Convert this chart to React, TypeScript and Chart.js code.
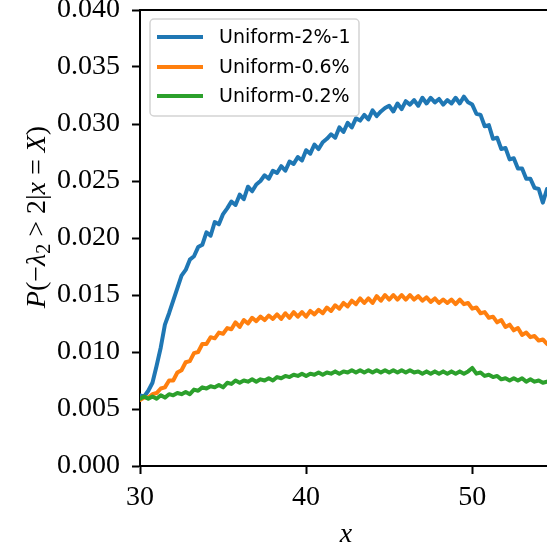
import React, { useEffect, useRef } from "react";
import { Chart, registerables } from "chart.js";

Chart.register(...registerables);

const X_VALUES = [
  30, 30.25, 30.5, 30.75, 31, 31.25, 31.5, 31.75, 32, 32.25,
  32.5, 32.75, 33, 33.25, 33.5, 33.75, 34, 34.25, 34.5, 34.75,
  35, 35.25, 35.5, 35.75, 36, 36.25, 36.5, 36.75, 37, 37.25,
  37.5, 37.75, 38, 38.25, 38.5, 38.75, 39, 39.25, 39.5, 39.75,
  40, 40.25, 40.5, 40.75, 41, 41.25, 41.5, 41.75, 42, 42.25,
  42.5, 42.75, 43, 43.25, 43.5, 43.75, 44, 44.25, 44.5, 44.75,
  45, 45.25, 45.5, 45.75, 46, 46.25, 46.5, 46.75, 47, 47.25,
  47.5, 47.75, 48, 48.25, 48.5, 48.75, 49, 49.25, 49.5, 49.75,
  50, 50.25, 50.5, 50.75, 51, 51.25, 51.5, 51.75, 52, 52.25,
  52.5, 52.75, 53, 53.25, 53.5, 53.75, 54, 54.25, 54.5,
];

const UNIFORM_2_1 = [
  0.0062, 0.0061, 0.0066, 0.0073, 0.0088, 0.0104, 0.0124, 0.0134, 0.0145, 0.0156,
  0.0167, 0.0172, 0.0181, 0.0184, 0.0192, 0.0194, 0.0205, 0.0202, 0.0214, 0.0212,
  0.0221, 0.0226, 0.0232, 0.0229, 0.0238, 0.0234, 0.0245, 0.0241, 0.0247, 0.025,
  0.0255, 0.0252, 0.0259, 0.0257, 0.0263, 0.0259, 0.0267, 0.0265, 0.0271, 0.0268,
  0.0277, 0.0274, 0.0282, 0.0278, 0.0284, 0.0287, 0.0291, 0.0288, 0.0297, 0.0293,
  0.0301, 0.0297, 0.0305, 0.0303, 0.0308, 0.0304, 0.0312, 0.0307, 0.0311, 0.0314,
  0.0316, 0.0311, 0.0318, 0.0313, 0.032, 0.0317, 0.0321, 0.0316, 0.0323, 0.0318,
  0.0323, 0.0319, 0.0322, 0.0317, 0.0321, 0.0318, 0.0323, 0.0318, 0.0324, 0.0319,
  0.0317, 0.0309, 0.0308, 0.0298, 0.0299, 0.0287, 0.0288, 0.0278, 0.0279, 0.0269,
  0.027, 0.0261, 0.0261, 0.0252, 0.0252, 0.0244, 0.0243, 0.0231, 0.0243,
];

const UNIFORM_0_6 = [
  0.0058, 0.006, 0.006, 0.0063, 0.0064, 0.0068, 0.0069, 0.0075, 0.0075, 0.0082,
  0.0084, 0.0091, 0.0092, 0.0099, 0.01, 0.0107, 0.0107, 0.0113, 0.0112, 0.0117,
  0.0116, 0.0121, 0.012, 0.0126, 0.0122, 0.0128, 0.0125, 0.013, 0.0127, 0.0131,
  0.0128, 0.0132, 0.0129, 0.0133, 0.0129, 0.0134, 0.013, 0.0135, 0.0131, 0.0135,
  0.0131, 0.0136, 0.0133, 0.0137, 0.0134, 0.0139, 0.0136, 0.0141, 0.0138, 0.0143,
  0.014, 0.0145, 0.0142, 0.0147, 0.0143, 0.0147, 0.0143, 0.0149, 0.0145, 0.015,
  0.0146, 0.015, 0.0146, 0.015, 0.0146, 0.015, 0.0146, 0.0149, 0.0145, 0.0148,
  0.0144, 0.0147, 0.0143, 0.0146, 0.0143, 0.0146, 0.0142, 0.0146, 0.0142, 0.0143,
  0.0138, 0.0139, 0.0134, 0.0135, 0.013, 0.0131, 0.0126, 0.0128, 0.0122, 0.0124,
  0.0119, 0.0121, 0.0115, 0.0117, 0.0113, 0.0114, 0.011, 0.0111, 0.0107,
];

const UNIFORM_0_2 = [
  0.0059, 0.0061, 0.0059, 0.0061, 0.0059, 0.0062, 0.006, 0.0063, 0.0062, 0.0064,
  0.0063, 0.0065, 0.0063, 0.0067, 0.0066, 0.0069, 0.0068, 0.007, 0.0069, 0.0071,
  0.0069, 0.0073, 0.0072, 0.0075, 0.0073, 0.0075, 0.0074, 0.0076, 0.0074, 0.0076,
  0.0075, 0.0077, 0.0075, 0.0078, 0.0077, 0.0079, 0.0078, 0.008, 0.0079, 0.0081,
  0.0079, 0.0081, 0.008, 0.0082, 0.008, 0.0082, 0.0081, 0.0083, 0.0081, 0.0083,
  0.0082, 0.0084, 0.0082, 0.0084, 0.0082, 0.0084, 0.0082, 0.0084, 0.0082, 0.0084,
  0.0082, 0.0084, 0.0082, 0.0084, 0.0082, 0.0084, 0.0082, 0.0083, 0.0081, 0.0083,
  0.0081, 0.0083, 0.0081, 0.0083, 0.0081, 0.0083, 0.0081, 0.0083, 0.0081, 0.0083,
  0.0086, 0.0081, 0.0082, 0.0079, 0.008, 0.0078, 0.0079, 0.0076, 0.0077, 0.0075,
  0.0077, 0.0075, 0.0077, 0.0074, 0.0076, 0.0074, 0.0075, 0.0073, 0.0074,
];

const SERIES_LABELS = ["Uniform-2%-1", "Uniform-0.6%", "Uniform-0.2%"];
const SERIES_COLORS = ["#1f77b4", "#ff7f0e", "#2ca02c"];

const X_MIN = 30;
const X_MAX = 54.5;
const X_STEP = 10;
const Y_MIN = 0;
const Y_MAX = 0.04;
const Y_STEP = 0.005;

// y-axis label: P(−λ₂ > 2|x = X), with italic math variables
const Y_LABEL_PARTS: { t: string; italic?: boolean; sub?: boolean }[] = [
  { t: "P", italic: true },
  { t: "(−" },
  { t: "λ", italic: true },
  { t: "2", sub: true },
  { t: " > 2|" },
  { t: "x", italic: true },
  { t: " = " },
  { t: "X", italic: true },
  { t: ")" },
];
const X_LABEL = "x";

const SERIF = "'Liberation Serif', 'DejaVu Serif', serif";
const SANS = "'DejaVu Sans', sans-serif";

const labelsPlugin = {
  id: "labelsPlugin",
  afterDraw(chart: any) {
    const ctx = chart.ctx as CanvasRenderingContext2D;
    const area = chart.chartArea;
    // y-axis label
    ctx.save();
    const fs = 28;
    const fontFor = (p: any) =>
      `${p.italic ? "italic " : ""}${p.sub ? Math.round(fs * 0.7) : fs}px ${SERIF}`;
    let total = 0;
    for (const p of Y_LABEL_PARTS) {
      ctx.font = fontFor(p);
      total += ctx.measureText(p.t).width;
    }
    ctx.translate(45, (area.top + area.bottom) / 2 - 21);
    ctx.rotate(-Math.PI / 2);
    ctx.fillStyle = "#000";
    ctx.textBaseline = "alphabetic";
    ctx.textAlign = "left";
    let cx = -total / 2;
    for (const p of Y_LABEL_PARTS) {
      ctx.font = fontFor(p);
      ctx.fillText(p.t, cx, p.sub ? 5 : 0);
      cx += ctx.measureText(p.t).width;
    }
    ctx.restore();

    // x-axis label
    ctx.save();
    ctx.font = `italic 28px ${SERIF}`;
    ctx.fillStyle = "#000";
    ctx.textAlign = "center";
    ctx.textBaseline = "alphabetic";
    ctx.fillText(X_LABEL, area.left + 206, 542);
    ctx.restore();

    // legend box
    ctx.save();
    const bx = 150, by = 19, bw = 209, bh = 97;
    ctx.beginPath();
    (ctx as any).roundRect(bx, by, bw, bh, 4);
    ctx.fillStyle = "rgba(255,255,255,0.8)";
    ctx.fill();
    ctx.strokeStyle = "#d3d3d3";
    ctx.lineWidth = 1.5;
    ctx.stroke();
    const rows = [37, 67, 96];
    chart.data.datasets.forEach((ds: any, i: number) => {
      const y = rows[i];
      ctx.beginPath();
      ctx.moveTo(157, y);
      ctx.lineTo(203, y);
      ctx.strokeStyle = ds.borderColor;
      ctx.lineWidth = 4;
      ctx.lineCap = "butt";
      ctx.stroke();
      ctx.font = `19px ${SANS}`;
      ctx.fillStyle = "#000";
      ctx.textBaseline = "middle";
      ctx.textAlign = "left";
      ctx.fillText(ds.label, 219, y + 1);
    });
    ctx.restore();
  },
};

export default function App() {
  const canvasRef = useRef<HTMLCanvasElement | null>(null);

  useEffect(() => {
    if (!canvasRef.current) return;
    const seriesValues = [UNIFORM_2_1, UNIFORM_0_6, UNIFORM_0_2];
    const chart = new Chart(canvasRef.current, {
      type: "line",
      data: {
        datasets: seriesValues.map((vals, i) => ({
          label: SERIES_LABELS[i],
          data: X_VALUES.map((x, j) => ({ x, y: vals[j] })),
          borderColor: SERIES_COLORS[i],
          backgroundColor: SERIES_COLORS[i],
          borderWidth: 4,
          pointRadius: 0,
          tension: 0,
          borderJoinStyle: "round",
          borderCapStyle: "round",
          order: 3 - i,
        })),
      },
      options: {
        animation: false,
        responsive: false,
        layout: { padding: { top: 10, right: 0, bottom: 0, left: 0 } },
        plugins: {
          legend: { display: false },
          tooltip: { enabled: false },
        },
        scales: {
          x: {
            type: "linear",
            position: "bottom",
            min: X_MIN,
            max: X_MAX,
            ticks: {
              stepSize: X_STEP,
              includeBounds: false,
              color: "#000",
              padding: 7,
              maxRotation: 0,
              font: { family: SERIF, size: 28 },
            },
            grid: {
              display: true,
              drawOnChartArea: false,
              drawTicks: true,
              tickLength: 8,
              tickWidth: 2,
              tickColor: "#000",
            },
            border: { display: true, color: "#000", width: 2 },
            afterFit(scale: any) {
              scale.height = 82;
              scale.paddingLeft = 0;
              scale.paddingRight = 0;
            },
          },
          xTop: {
            type: "linear",
            position: "top",
            min: X_MIN,
            max: X_MAX,
            ticks: { display: false },
            grid: { display: false, drawTicks: false },
            border: { display: true, color: "#000", width: 2 },
            afterFit(scale: any) {
              scale.height = 0;
              scale.paddingLeft = 0;
              scale.paddingRight = 0;
            },
          },
          y: {
            type: "linear",
            min: Y_MIN,
            max: Y_MAX,
            ticks: {
              stepSize: Y_STEP,
              color: "#000",
              padding: 12,
              font: { family: SERIF, size: 28 },
              callback: (v: any) => Number(v).toFixed(3),
            },
            grid: {
              display: true,
              drawOnChartArea: false,
              drawTicks: true,
              tickLength: 8,
              tickWidth: 2,
              tickColor: "#000",
            },
            border: { display: true, color: "#000", width: 2 },
            afterFit(scale: any) {
              scale.width = 140;
              scale.paddingTop = 0;
              scale.paddingBottom = 0;
            },
          },
        },
      },
      plugins: [labelsPlugin],
    } as any);
    return () => chart.destroy();
  }, []);

  return (
    <div style={{ position: "absolute", left: 0, top: 0, width: 547, height: 548, background: "#fff" }}>
      <canvas ref={canvasRef} width={547} height={548} style={{ display: "block" }} />
    </div>
  );
}
